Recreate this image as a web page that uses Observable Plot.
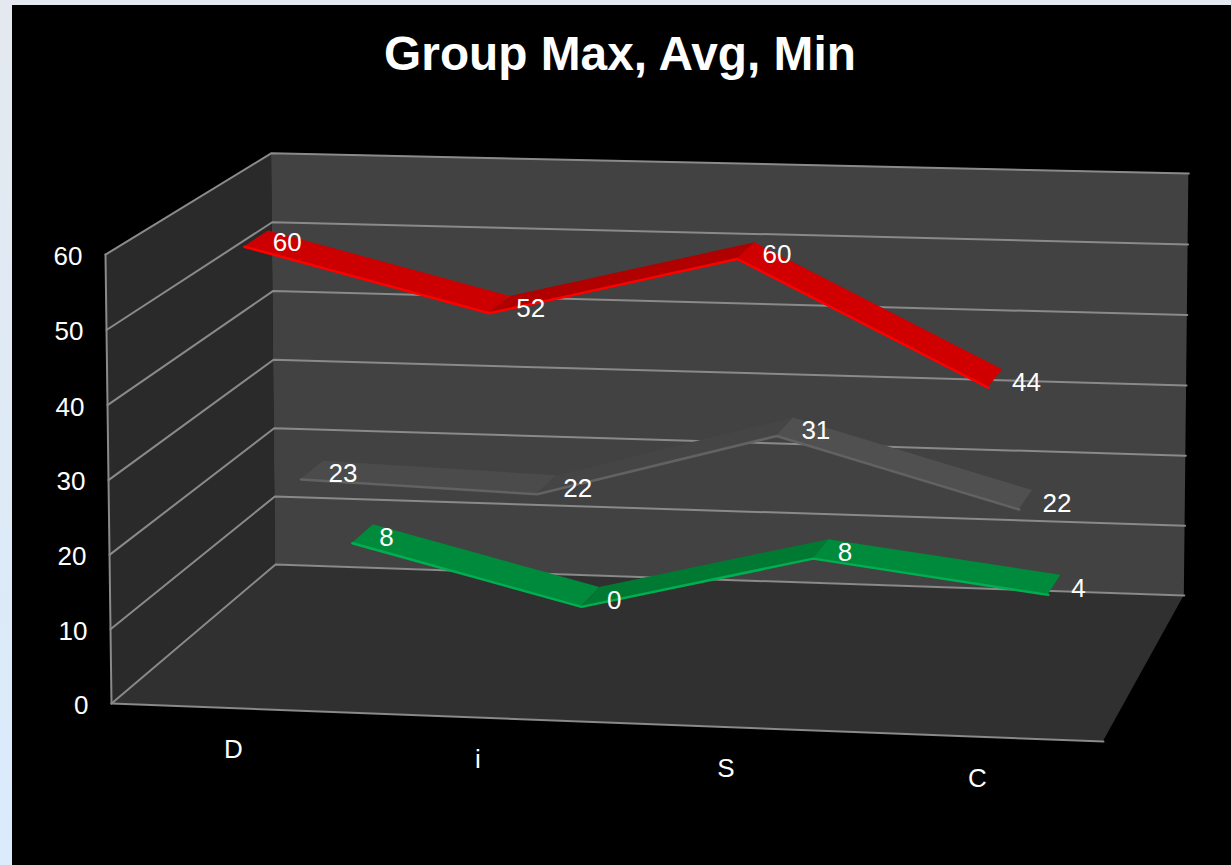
<!DOCTYPE html>
<html>
<head>
<meta charset="utf-8">
<script src="https://cdn.jsdelivr.net/npm/d3@7"></script>
<script src="https://cdn.jsdelivr.net/npm/@observablehq/plot@0.6"></script>
<style>
html,body{margin:0;padding:0;width:1231px;height:865px;overflow:hidden;background:linear-gradient(#e4e9ef,#d9ebfc);}
#chart{position:absolute;left:12px;top:5px;width:1219px;height:860px;background:#000;}
svg{display:block;}
</style>
</head>
<body>
<div id="chart"></div>
<script>
const title = "Group Max, Avg, Min";
const categories = ["D", "i", "S", "C"];
const valueTicks = [0, 10, 20, 30, 40, 50, 60];
const maxValues = [60, 52, 60, 44];
const avgValues = [23, 22, 31, 22];
const minValues = [8, 0, 8, 4];
const yMax = 60;

const seriesStyle = [
  {name: "Min", values: minValues, depth: 5/6, faces: ["#008a3b", "#007a33", "#008a3b"], edge: "#00b050"},
  {name: "Avg", values: avgValues, depth: 1/2, faces: ["#4b4b4b", "#454545", "#505050"], edge: "#626262"},
  {name: "Max", values: maxValues, depth: 1/6, faces: ["#cc0000", "#b00000", "#d00000"], edge: "#ff0000"}
];
const ribbonFront = 0.068, ribbonBack = 0.078;

// Projective camera: unit cube (u along categories, w into the page, v up) to the page.
const camera = {
  x: [111, 961.1, 189.85, -7.05],
  y: [703, 17.25, -86, -451.5],
  d: [1, -0.028, 0.094, -0.01]
};
const dot = (c, u, w, v) => c[0] + c[1]*u + c[2]*w + c[3]*v;
const px = (u, w, v) => dot(camera.x, u, w, v) / dot(camera.d, u, w, v);
const py = (u, w, v) => dot(camera.y, u, w, v) / dot(camera.d, u, w, v);
const catU = i => (i + 0.5) / categories.length;
const val = v => v / yMax;

// Faces of the box
const face = (name, fill, a, b) => [0, 1].map(t => ({
  name, fill,
  x1: px(...a(t)), y1: py(...a(t)),
  x2: px(...b(t)), y2: py(...b(t))
}));
const faces = [
  ...face("left", "#2a2a2a", t => [0, t, 0], t => [0, t, 1]),
  ...face("back", "#424242", t => [t, 1, 0], t => [t, 1, 1]),
  ...face("floor", "#303030", t => [t, 0, 0], t => [t, 1, 0])
];

// Gridlines
const gridRows = [];
valueTicks.forEach(t => {
  const v = val(t);
  [[0, 0, v], [0, 1, v], [1, 1, v]].forEach(p =>
    gridRows.push({key: "g" + t, x: px(...p), y: py(...p)}));
});
[[[0, 0, 0], [0, 0, 1]], [[0, 0, 0], [1, 0, 0]]].forEach((edge, i) =>
  edge.forEach(p => gridRows.push({key: "e" + i, x: px(...p), y: py(...p)})));

// Ribbons
const ribbonRows = [], edgeRows = [], labelRows = [];
seriesStyle.forEach(s => {
  const w1 = s.depth - ribbonFront, w2 = s.depth + ribbonBack;
  s.values.forEach((value, i) => {
    const u = catU(i), v = val(value);
    edgeRows.push({series: s.name, stroke: s.edge, x: px(u, w1, v), y: py(u, w1, v)});
    labelRows.push({text: String(value), x: px(u, s.depth, v), y: py(u, s.depth, v)});
    if (i < s.values.length - 1) {
      [i, i + 1].forEach(j => {
        const uj = catU(j), vj = val(s.values[j]);
        ribbonRows.push({
          seg: s.name + i, fill: s.faces[i],
          x1: px(uj, w1, vj), y1: py(uj, w1, vj),
          x2: px(uj, w2, vj), y2: py(uj, w2, vj)
        });
      });
    }
  });
});

const textFont = "Liberation Sans, Arial, sans-serif";
const ribbonMarks = seriesStyle.flatMap(s => [
  Plot.area(ribbonRows.filter(r => r.seg.startsWith(s.name)), {
    x1: "x1", y1: "y1", x2: "x2", y2: "y2", z: "seg", fill: "fill"
  }),
  Plot.line(edgeRows.filter(r => r.series === s.name), {
    x: "x", y: "y", stroke: "stroke", strokeWidth: 2.5, strokeLinejoin: "miter"
  })
]);

const plot = Plot.plot({
  width: 1219, height: 860,
  marginTop: 0, marginRight: 0, marginBottom: 0, marginLeft: 0,
  style: {background: "#000", fontFamily: textFont},
  x: {domain: [12, 1231], range: [0, 1219], axis: null},
  y: {domain: [5, 865], range: [0, 860], axis: null},
  color: {type: "identity"},
  marks: [
    Plot.area(faces, {x1: "x1", y1: "y1", x2: "x2", y2: "y2", z: "name", fill: "fill"}),
    Plot.line(gridRows, {x: "x", y: "y", z: "key", stroke: "#8a8a8a", strokeWidth: 2}),
    ...ribbonMarks,
    Plot.text(labelRows, {
      x: "x", y: "y", text: "text", dx: 17, dy: 3, textAnchor: "start",
      fill: "#fff", fontSize: 26, fontFamily: textFont
    }),
    Plot.text(valueTicks, {
      x: t => px(0, 0, val(t)), y: t => py(0, 0, val(t)), text: t => String(t),
      dx: -23, dy: 2, textAnchor: "end", fill: "#fff", fontSize: 26, fontFamily: textFont
    }),
    Plot.text(categories, {
      x: (c, i) => px(catU(i), 0, 0), y: (c, i) => py(catU(i), 0, 0), text: c => c,
      dx: 1, dy: 42, fill: "#fff", fontSize: 26, fontFamily: textFont
    }),
    Plot.text([title], {
      x: () => 619.5, y: () => 54, text: d => d,
      fill: "#fff", fontSize: 47.8, fontWeight: "bold", fontFamily: textFont
    })
  ]
});
document.getElementById("chart").appendChild(plot);
</script>
</body>
</html>
